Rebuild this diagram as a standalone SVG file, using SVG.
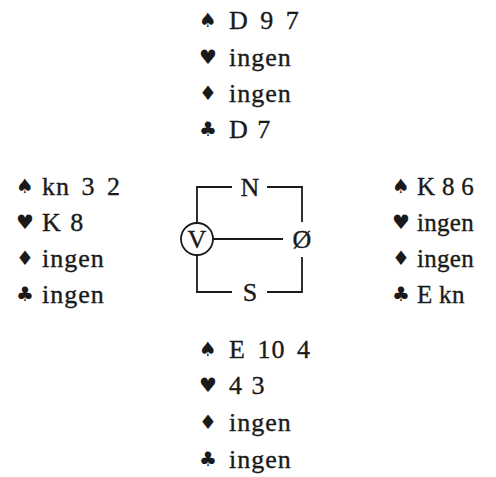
<svg xmlns="http://www.w3.org/2000/svg" width="496" height="477" viewBox="0 0 496 477">
<style>
.t{font-family:"Liberation Serif","Times New Roman",serif;font-size:26px;fill:#1a1a1a;stroke:#1a1a1a;stroke-width:0.35;letter-spacing:1px;word-spacing:1px}
.w{word-spacing:4px}
.e{font-size:25px;letter-spacing:0.3px;word-spacing:0}
.s{font-family:"DejaVu Sans",sans-serif;font-size:20px;fill:#1a1a1a}
.l{stroke:#1a1a1a;stroke-width:1.8;fill:none}
.c{letter-spacing:0;word-spacing:0}
</style>
<rect width="496" height="477" fill="#ffffff"/>
<g id="north">
<text class="s" x="199" y="27">♠</text><text class="t w" x="229" y="29">D 9 7</text>
<text class="s" x="199" y="64">♥</text><text class="t" x="229" y="66">ingen</text>
<text class="s" x="199" y="100">♦</text><text class="t" x="229" y="102">ingen</text>
<text class="s" x="199" y="136">♣</text><text class="t" x="229" y="138">D 7</text>
</g>
<g id="west">
<text class="s" x="16" y="193">♠</text><text class="t w" x="42" y="195">kn 3 2</text>
<text class="s" x="16" y="229">♥</text><text class="t" x="42" y="231">K 8</text>
<text class="s" x="16" y="265">♦</text><text class="t" x="42" y="267">ingen</text>
<text class="s" x="16" y="301">♣</text><text class="t" x="42" y="303">ingen</text>
</g>
<g id="east">
<text class="s" x="392" y="193">♠</text><text class="t e" x="417" y="195">K 8 6</text>
<text class="s" x="392" y="229">♥</text><text class="t e" x="417" y="231">ingen</text>
<text class="s" x="392" y="265">♦</text><text class="t e" x="417" y="267">ingen</text>
<text class="s" x="392" y="301">♣</text><text class="t e" x="417" y="303">E kn</text>
</g>
<g id="south">
<text class="s" x="199" y="356">♠</text><text class="t w" x="229" y="358">E 10 4</text>
<text class="s" x="199" y="392">♥</text><text class="t" x="229" y="394">4 3</text>
<text class="s" x="199" y="429">♦</text><text class="t" x="229" y="431">ingen</text>
<text class="s" x="199" y="466">♣</text><text class="t" x="229" y="468">ingen</text>
</g>
<g id="connectors">
<path class="l" d="M232 187 H197 V223 M197 255 V292 H232 M267 292 H302 V257 M302 222 V187 H267 M213 239 H283"/>
</g>
<g id="compass">
<circle class="l" cx="197" cy="239" r="16"/>
<text class="t c" x="197" y="248" text-anchor="middle">V</text>
<text class="t c" x="250" y="196" text-anchor="middle">N</text>
<text class="t c" x="250" y="301" text-anchor="middle">S</text>
<text class="t c" x="302" y="248" text-anchor="middle">Ø</text>
</g>
</svg>
